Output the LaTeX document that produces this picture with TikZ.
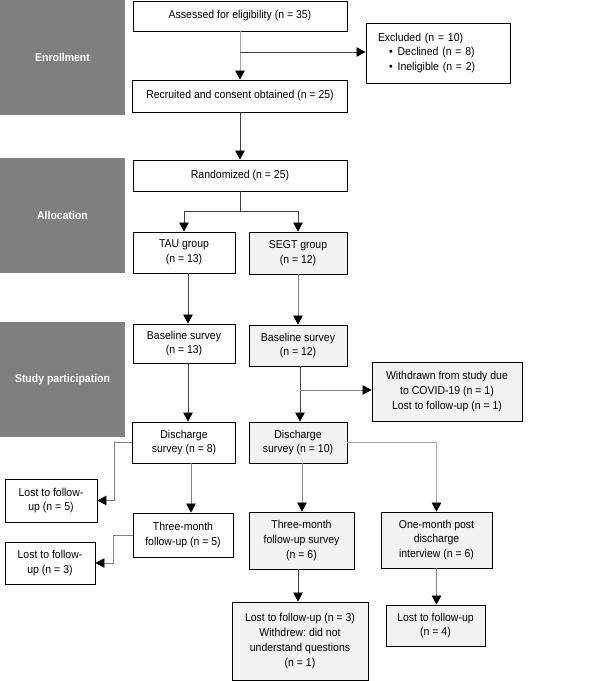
\documentclass[tikz,border=0pt]{standalone}
\usepackage{fontspec}
\setmainfont[FakeStretch=0.92]{Liberation Sans}
\usetikzlibrary{arrows.meta}
\definecolor{phasegray}{HTML}{7F7F7F}
\definecolor{armfill}{HTML}{F2F2F2}
\definecolor{linedark}{HTML}{404040}
\definecolor{linelight}{HTML}{A6A6A6}
\frenchspacing

\begin{document}
\begin{tikzpicture}[
    x=1pt, y=-1pt,
    font=\fontsize{11.4}{14.8}\selectfont,
    phase/.style={fill=phasegray, text=white, font=\fontsize{11.4}{14.8}\selectfont\bfseries, minimum width=125pt, minimum height=115pt, inner sep=0pt},
    box/.style={draw, line width=0.8pt, fill=white, align=center, inner sep=2pt},
    arm/.style={box, fill=armfill},
    dims/.style 2 args={minimum width=#1pt, minimum height=#2pt},
    flow/.style={draw=linedark, line width=0.7pt, -{Triangle[length=9pt, width=9.5pt, black]}},
    plain/.style={draw=linedark, line width=0.7pt}
]
    \useasboundingbox (0,0) rectangle (597,681);

    % Phases
    \node[phase] (enroll) at (62.5,57.5) {Enrollment};
    \node[phase] (alloc) at (62.5,215.5) {Allocation};
    \node[phase] (study) at (62.5,379.5) {Study participation};

    % Enrollment
    \node[box, dims={214}{30}] (assessed) at (240,16) {Assessed for eligibility (n = 35)};
    \node[box, dims={144}{60}, align=left, text width=120pt, inner xsep=12pt] (excluded) at (438,53)
        {Excluded (n = 10)\\\hspace*{11pt}\textbullet\hspace{5pt}Declined (n = 8)\\\hspace*{11pt}\textbullet\hspace{5pt}Ineligible (n = 2)};
    \node[box, dims={215}{32}] (recruited) at (240,96) {Recruited and consent obtained (n = 25)};

    % Allocation
    \node[box, dims={214}{31}] (random) at (240,175.5) {Randomized (n = 25)};
    \node[box, dims={102}{41}] (tau) at (184,252.5) {TAU group\\(n = 13)};
    \node[arm, dims={98}{42}] (segt) at (298,253) {SEGT group\\(n = 12)};

    % Study participation
    \node[box, dims={102}{39}] (baseT) at (184,343.5) {Baseline survey\\(n = 13)};
    \node[arm, dims={98}{41}] (baseS) at (298,345.5) {Baseline survey\\(n = 12)};
    \node[arm, dims={150}{59}] (withdrawn) at (447,391.5) {Withdrawn from study due\\to COVID-19 (n = 1)\\Lost to follow-up (n = 1)};
    \node[box, dims={103}{41}] (dischT) at (184,442.5) {Discharge\\survey (n = 8)};
    \node[arm, dims={98}{41}] (dischS) at (298,442.5) {Discharge\\survey (n = 10)};
    \node[box, dims={92}{43}] (lostA) at (51,500.5) {Lost to follow-\\up (n = 5)};
    \node[box, dims={100}{44}] (threeT) at (183,535) {Three-month\\follow-up (n = 5)};
    \node[arm, dims={105}{57}] (threeS) at (301.5,540.5) {Three-month\\follow-up survey\\(n = 6)};
    \node[arm, dims={111}{56}] (onemonth) at (436.5,540) {One-month post\\discharge\\interview (n = 6)};
    \node[box, dims={90}{42}] (lostB) at (50,563) {Lost to follow-\\up (n = 3)};
    \node[arm, dims={136}{78}] (lostC) at (300,641) {Lost to follow-up (n = 3)\\Withdrew: did not\\understand questions\\(n = 1)};
    \node[arm, dims={99}{41}] (lostD) at (435.5,625.5) {Lost to follow-up\\(n = 4)};

    % Connectors
    \coordinate (exbr) at (240,52);
    \coordinate (split) at (240,211);
    \coordinate (wdbr) at (300,390);

    \draw[flow, draw=linelight] (assessed) -- (recruited);
    \draw[flow] (exbr) -- (exbr -| excluded.west);
    \draw[flow] (recruited) -- (random);
    \draw[plain] (random) -- (split);
    \draw[flow] (split) -| (tau);
    \draw[flow] (split) -| (segt);
    \draw[flow] ([xshift=4pt]tau.south) -- ([xshift=4pt]baseT.north);
    \draw[flow, draw=gray] (segt) -- (baseS);
    \draw[flow] ([xshift=4pt]baseT.south) -- ([xshift=4pt]dischT.north);
    \draw[flow] ([xshift=2pt]baseS.south) -- ([xshift=2pt]dischS.north);
    \draw[flow, draw=gray] (wdbr) -- (wdbr -| withdrawn.west);
    \draw[flow, draw=gray] (dischT.west) -- ++(-18,0) |- (lostA);
    \draw[flow, draw=linelight] (dischS.east) -| (onemonth);
    \draw[flow, draw=gray] ([xshift=7pt]dischT.south) -- ([xshift=7pt]dischT.south |- threeT.north);
    \draw[flow, draw=gray] ([xshift=4pt]dischS.south) -- ([xshift=4pt]dischS.south |- threeS.north);
    \draw[flow, draw=gray] (threeT.west) -- ++(-19,0) |- (lostB);
    \draw[flow] ([xshift=-2pt]threeS.south -| lostC.north) -- ([xshift=-2pt]lostC.north);
    \draw[flow, draw=gray] (onemonth.south) -- (onemonth.south |- lostD.north);
\end{tikzpicture}
\end{document}
